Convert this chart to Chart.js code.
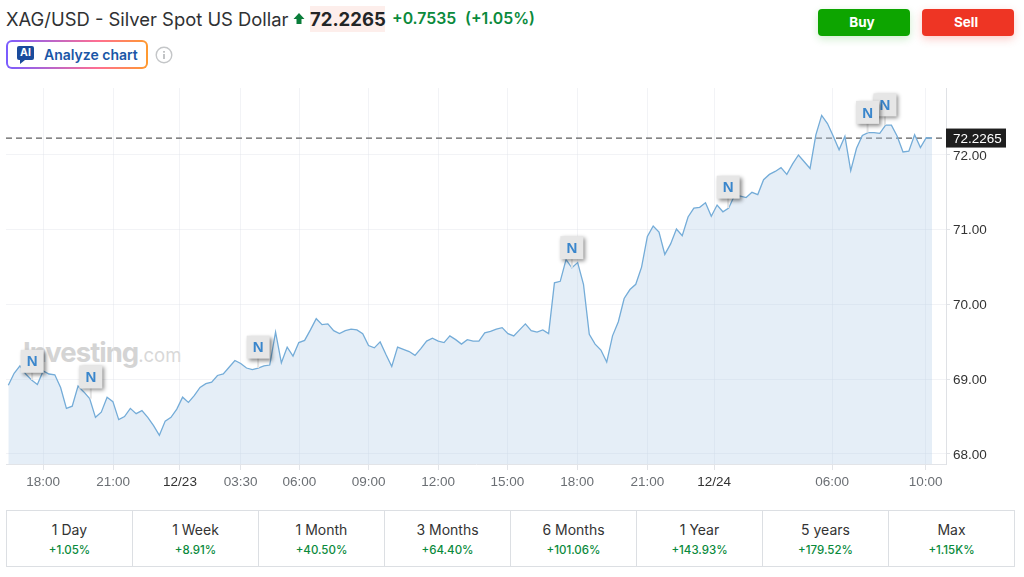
<!DOCTYPE html>
<html>
<head>
<meta charset="utf-8">
<title>XAG/USD</title>
<script src="https://cdn.jsdelivr.net/npm/chart.js@4"></script>
<style>
  html, body { margin: 0; padding: 0; background: #fff; width: 1024px; height: 577px; overflow: hidden; }
  body { position: relative; font-family: Inter, sans-serif; color: #232526; }
  .abs { position: absolute; white-space: nowrap; }
  #chartWrap { position: absolute; left: 0; top: 0; width: 1024px; height: 500px; }
  .btn { top: 9px; width: 92px; height: 27px; line-height: 27px; border-radius: 4px; color: #fff; font-weight: 700; font-size: 13.5px; text-align: center; text-indent: -4px; }
  #ai { left: 6px; top: 40px; width: 138px; height: 25px; padding: 0; border: 2px solid transparent; border-radius: 6px;
        background: linear-gradient(#fff, #fff) padding-box, linear-gradient(90deg, #7a5cff, #ff6f91 65%, #ff9a2e) border-box; }
  #periods { position: absolute; left: 6px; top: 510px; width: 1009px; height: 57px; display: flex; box-sizing: border-box; border: 1px solid #dcdfe3; }
  #periods div { flex: 0 0 126px; box-sizing: border-box; text-align: center; border-left: 1px solid #dcdfe3; }
  #periods div:first-child { flex-basis: 125px; border-left: 0; }
  #periods b { display: block; font-weight: 400; font-size: 14px; line-height: 18px; margin-top: 10px; color: #333; }
  #periods i { display: block; font-style: normal; font-weight: 500; font-size: 11.5px; line-height: 14px; margin-top: 4px; color: #0a8a3c; }
</style>
</head>
<body>
<div class="abs" style="left:6px;top:6px;font-size:18.4px;line-height:26px;color:#2f3133">XAG/USD - Silver Spot US Dollar</div>
<svg class="abs" style="left:293px;top:12px" width="12" height="13"><path d="M6 1 L11.5 7 L8.5 7 L8.5 12 L3.5 12 L3.5 7 L0.5 7 Z" fill="#0a7d3a"/></svg>
<div class="abs" style="left:310px;top:6px;width:75px;height:26px;line-height:26px;background:#fdeeeb;font-size:18.5px;font-weight:700;text-align:center">72.2265</div>
<div class="abs" style="left:392px;top:6px;line-height:26px;font-size:15.8px;font-weight:600;color:#0a8a3c">+0.7535</div>
<div class="abs" style="left:465px;top:6px;line-height:26px;font-size:15.8px;font-weight:600;color:#0a8a3c">(+1.05%)</div>
<div class="abs btn" style="left:818px;background:#0da500;box-shadow:0 3px 8px rgba(13,165,0,.2)">Buy</div>
<div class="abs btn" style="left:922px;background:#ee3524;box-shadow:0 3px 8px rgba(238,53,36,.25)">Sell</div>
<div class="abs" id="ai"></div>
<div class="abs" style="left:17px;top:46px;width:17px;height:14px;line-height:14px;border-radius:2px;background:#1a4b9c;color:#fff;font-size:10.5px;font-weight:700;text-align:center">AI</div>
<svg class="abs" style="left:20px;top:60px" width="6" height="5"><path d="M0 0 L5 0 L0 4 Z" fill="#1a4b9c"/></svg>
<div class="abs" style="left:44px;top:44px;line-height:21px;font-size:14px;font-weight:600;color:#1a56a6">Analyze chart</div>
<svg class="abs" style="left:155px;top:46px" width="18" height="18"><circle cx="9" cy="9" r="7.8" fill="none" stroke="#c4c6c8" stroke-width="1.4"/><rect x="8.2" y="8" width="1.6" height="5" fill="#b4b6b8"/><rect x="8.2" y="5" width="1.6" height="1.7" fill="#b4b6b8"/></svg>
<div class="abs" style="left:23px;top:334px;line-height:36px;font-size:27.5px;font-weight:700;letter-spacing:-1px;color:#d4d4d4">Investing<span style="font-weight:400;font-size:18.5px;letter-spacing:0;color:#d8d8d8">.com</span></div>
<div id="chartWrap"><canvas id="myChart" width="1024" height="500"></canvas></div>
<div id="periods"></div>

<script>
// values, 15 minute steps
var prices = [
  68.92, 69.08, 69.18, 69.07, 68.99, 68.93, 69.11, 69.07, 69.06, 68.89, 68.61, 68.64, 68.91, 68.83, 68.74, 68.49,
  68.56, 68.76, 68.70, 68.46, 68.50, 68.61, 68.54, 68.58, 68.49, 68.38, 68.25, 68.44, 68.49, 68.60, 68.76, 68.69,
  68.78, 68.89, 68.94, 68.96, 69.05, 69.07, 69.16, 69.25, 69.21, 69.15, 69.13, 69.15, 69.18, 69.19, 69.63, 69.22,
  69.43, 69.31, 69.49, 69.52, 69.66, 69.81, 69.73, 69.74, 69.65, 69.61, 69.65, 69.67, 69.66, 69.61, 69.45, 69.42,
  69.50, 69.33, 69.17, 69.43, 69.40, 69.37, 69.32, 69.41, 69.51, 69.55, 69.51, 69.49, 69.58, 69.53, 69.47, 69.53,
  69.51, 69.51, 69.62, 69.64, 69.67, 69.69, 69.61, 69.58, 69.66, 69.74, 69.65, 69.63, 69.66, 69.61, 70.29, 70.31,
  70.60, 70.49, 70.56, 70.27, 69.60, 69.47, 69.39, 69.23, 69.58, 69.77, 70.08, 70.20, 70.27, 70.50, 70.91, 71.05,
  70.97, 70.67, 70.81, 71.01, 70.92, 71.17, 71.29, 71.30, 71.36, 71.18, 71.33, 71.24, 71.29, 71.46, 71.45, 71.43,
  71.50, 71.47, 71.67, 71.74, 71.78, 71.83, 71.74, 71.88, 72.00, 71.91, 71.82, 72.27, 72.53, 72.42, 72.25, 72.07,
  72.25, 71.79, 72.09, 72.26, 72.30, 72.30, 72.29, 72.40, 72.40, 72.25, 72.04, 72.05, 72.27, 72.10, 72.23, 72.2265
];
var lastPrice = 72.2265;

var tickLabels = ['18:00', '21:00', '12/23', '03:30', '06:00', '09:00', '12:00', '15:00', '18:00', '21:00', '12/24', '06:00', '10:00'];
var tickIndex = [6, 18.05, 29.55, 40, 50.1, 62, 74, 85.9, 97.9, 110, 121.5, 141.8, 157.9];
var yTicks = [68, 69, 70, 71, 72];

var newsIndex = [150.9, 147.9, 123.9, 97, 43, 14.2, 4.1];
var newsLevel = [72.67, 72.57, 71.57, 70.76, 69.43, 69.03, 69.24];

var periodNames = ['1 Day', '1 Week', '1 Month', '3 Months', '6 Months', '1 Year', '5 years', 'Max'];
var periodChanges = ['+1.05%', '+8.91%', '+40.50%', '+64.40%', '+101.06%', '+143.93%', '+179.52%', '+1.15K%'];

var box = document.getElementById('periods');
periodNames.forEach(function(name, i) {
  var d = document.createElement('div');
  d.innerHTML = '<b>' + name + '</b><i>' + periodChanges[i] + '</i>';
  box.appendChild(d);
});

var xMin = -0.4, xMax = 161.4;
var axisFont = { family: '"Liberation Sans", Arial, sans-serif', size: 13.5 };

// news flags and the dark price tag
var overlay = {
  id: 'overlay',
  afterDatasetsDraw: function(chart) {
    var c = chart.ctx, xs = chart.scales.x, ys = chart.scales.y;
    newsIndex.forEach(function(idx, i) {
      var px = xs.getPixelForValue(idx), py = ys.getPixelForValue(newsLevel[i]);
      var pointY = ys.getPixelForValue(prices[Math.round(idx)]);
      c.save();
      c.strokeStyle = '#e4e4e4';
      c.lineWidth = 2;
      c.beginPath();
      c.moveTo(px, py);
      c.lineTo(px, Math.max(pointY, py + 11));
      c.stroke();
      c.shadowColor = 'rgba(0,0,0,0.45)';
      c.shadowBlur = 4;
      c.shadowOffsetX = 2;
      c.shadowOffsetY = 2;
      c.fillStyle = '#e6e6e6';
      c.fillRect(px - 11.5, py - 11.5, 23, 23);
      c.restore();
      c.fillStyle = '#3a86cc';
      c.font = 'bold 15px "Liberation Sans", Arial, sans-serif';
      c.textAlign = 'center';
      c.textBaseline = 'middle';
      c.fillText('N', px, py + 1);
    });

    var tagY = ys.getPixelForValue(lastPrice);
    var left = chart.chartArea.right;
    c.fillStyle = '#1e1e1e';
    c.fillRect(left, tagY - 9.5, 60, 19);
    c.fillStyle = '#fff';
    c.font = axisFont.size + 'px ' + axisFont.family;
    c.textAlign = 'left';
    c.textBaseline = 'middle';
    c.fillText(lastPrice.toFixed(4), left + 7, tagY + 1);
  }
};

var chart = new Chart(document.getElementById('myChart').getContext('2d'), {
  type: 'line',
  data: {
    datasets: [{
      data: prices.map(function(v, i) { return { x: i, y: v }; }),
      borderColor: '#74acd8',
      borderWidth: 1.3,
      backgroundColor: 'rgba(180,205,232,0.34)',
      fill: 'start',
      pointRadius: 0,
      tension: 0
    }, {
      data: [{ x: xMin, y: lastPrice }, { x: xMax, y: lastPrice }],
      borderColor: '#5e5e5e',
      borderWidth: 1.2,
      borderDash: [6, 4],
      pointRadius: 0,
      fill: false
    }]
  },
  options: {
    responsive: false,
    animation: false,
    events: [],
    layout: { padding: { left: 6, top: 88, right: 0, bottom: 0 } },
    plugins: { legend: { display: false }, tooltip: { enabled: false }, title: { display: false } },
    scales: {
      x: {
        type: 'linear',
        min: xMin,
        max: xMax,
        afterBuildTicks: function(scale) {
          scale.ticks = tickIndex.map(function(v) { return { value: v }; });
        },
        afterFit: function(scale) { scale.height = 36; },
        ticks: {
          autoSkip: false,
          maxRotation: 0,
          padding: 4,
          font: axisFont,
          color: function(ctx) {
            var s = tickLabels[ctx.index];
            return s.indexOf('/') > 0 ? '#333' : '#6b6f74';
          },
          callback: function(value, i) { return tickLabels[i]; }
        },
        grid: { color: 'rgba(222,226,232,0.4)', tickColor: '#e2e4e8', tickLength: 6 },
        border: { color: '#e2e4e8' }
      },
      y: {
        position: 'right',
        min: 67.866,
        max: 72.896,
        afterBuildTicks: function(scale) {
          scale.ticks = yTicks.map(function(v) { return { value: v }; });
        },
        afterFit: function(scale) { scale.width = 78; },
        ticks: {
          padding: 3,
          labelOffset: 1,
          font: axisFont,
          color: '#333',
          callback: function(v) { return v.toFixed(2); }
        },
        grid: { color: 'rgba(222,226,232,0.4)', tickColor: '#e2e4e8', tickLength: 4 },
        border: { color: '#dfe1e5' }
      }
    }
  },
  plugins: [overlay]
});
</script>
</body>
</html>
